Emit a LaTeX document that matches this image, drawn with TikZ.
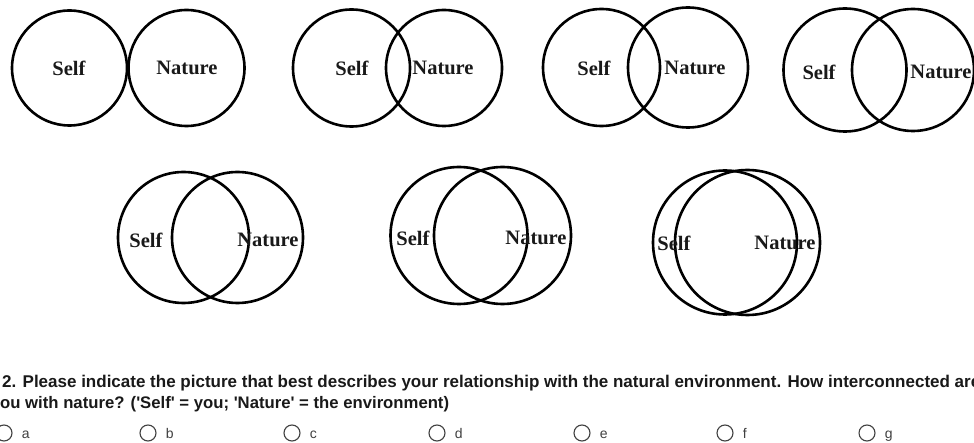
\documentclass[tikz,border=0pt]{standalone}
\usepackage{fontspec}
\setmainfont{Liberation Serif}
\newfontfamily\formfont{Liberation Sans}
\usetikzlibrary{positioning}

\begin{document}
\begin{tikzpicture}[x=1pt, y=-1pt,
		ring/.style={circle, draw=black, line width=2.6pt, inner sep=0pt},
		who/.style={font=\fontsize{20.5}{24}\selectfont\bfseries, text=black!90, inner sep=0pt},
		radio/.style={circle, draw=black!75, line width=1.1pt, minimum size=16pt, inner sep=0pt},
		choice/.style={font=\formfont\fontsize{14}{16}\selectfont, text=black!75, inner sep=0pt},
		question/.style={font=\formfont\fontsize{16.7}{20}\selectfont\bfseries, text=black!90, inner sep=0pt, anchor=base west}]
		\useasboundingbox (0,0) rectangle (974,443);
		\clip (0,0) rectangle (974,443);

		% first row: a - d
		\node[ring, minimum size=115pt] (selfA) at (69.5, 68) {};
		\node[ring, minimum size=116pt] (natA) at (186.5, 68) {};
		\node[who] (selfAtxt) at (69, 68) {Self};
		\node[who] (natAtxt) at (187, 68) {Nature};

		\node[ring, minimum size=117pt] (selfB) at (351.5, 68) {};
		\node[ring, minimum size=116pt] (natB) at (444, 68) {};
		\node[who] (selfBtxt) at (352, 68) {Self};
		\node[who] (natBtxt) at (443, 68) {Nature};

		\node[ring, minimum size=117pt] (selfC) at (601.5, 67.5) {};
		\node[ring, minimum size=120pt] (natC) at (688, 67.5) {};
		\node[who] (selfCtxt) at (594, 68) {Self};
		\node[who] (natCtxt) at (695, 68) {Nature};

		\node[ring, minimum size=123pt] (selfD) at (845, 70) {};
		\node[ring, minimum size=122pt] (natD) at (913, 70) {};
		\node[who] (selfDtxt) at (819, 72) {Self};
		\node[who] (natDtxt) at (941, 72) {Nature};

		% second row: e - g
		\node[ring, minimum size=131pt] (selfE) at (183.5, 237.5) {};
		\node[ring, minimum size=131pt] (natE) at (237.5, 237.5) {};
		\node[who] (selfEtxt) at (146, 240) {Self};
		\node[who] (natEtxt) at (268, 240) {Nature};

		\node[ring, minimum size=137pt] (selfF) at (459, 235.5) {};
		\node[ring, minimum size=137pt] (natF) at (502.5, 235.5) {};
		\node[who] (selfFtxt) at (413, 238) {Self};
		\node[who] (natFtxt) at (536, 238) {Nature};

		\node[ring, minimum size=144pt] (selfG) at (725, 242.5) {};
		\node[ring, minimum size=145pt] (natG) at (747.5, 242.5) {};
		\node[who] (selfGtxt) at (674, 243) {Self};
		\node[who] (natGtxt) at (785, 243) {Nature};

		% question and answer buttons
		\node[question, font=\formfont\fontsize{17}{20}\selectfont\bfseries] (askA) at (2, 387) {2. Please indicate the picture that best describes your relationship with the natural environment. How interconnected are};
		\node[question] (askB) at (0, 408) {ou with nature? ('Self' = you; 'Nature' = the environment)};

		\node[radio] (optA) at (4, 433) {};
		\node[choice, base right=9pt of optA, yshift=-5pt] {a};
		\node[radio] (optB) at (148, 433) {};
		\node[choice, base right=9pt of optB, yshift=-5pt] {b};
		\node[radio] (optC) at (292, 433) {};
		\node[choice, base right=9pt of optC, yshift=-5pt] {c};
		\node[radio] (optD) at (437, 433) {};
		\node[choice, base right=9pt of optD, yshift=-5pt] {d};
		\node[radio] (optE) at (582, 433) {};
		\node[choice, base right=9pt of optE, yshift=-5pt] {e};
		\node[radio] (optF) at (725, 433) {};
		\node[choice, base right=9pt of optF, yshift=-5pt] {f};
		\node[radio] (optG) at (867, 433) {};
		\node[choice, base right=9pt of optG, yshift=-5pt] {g};
\end{tikzpicture}
\end{document}
